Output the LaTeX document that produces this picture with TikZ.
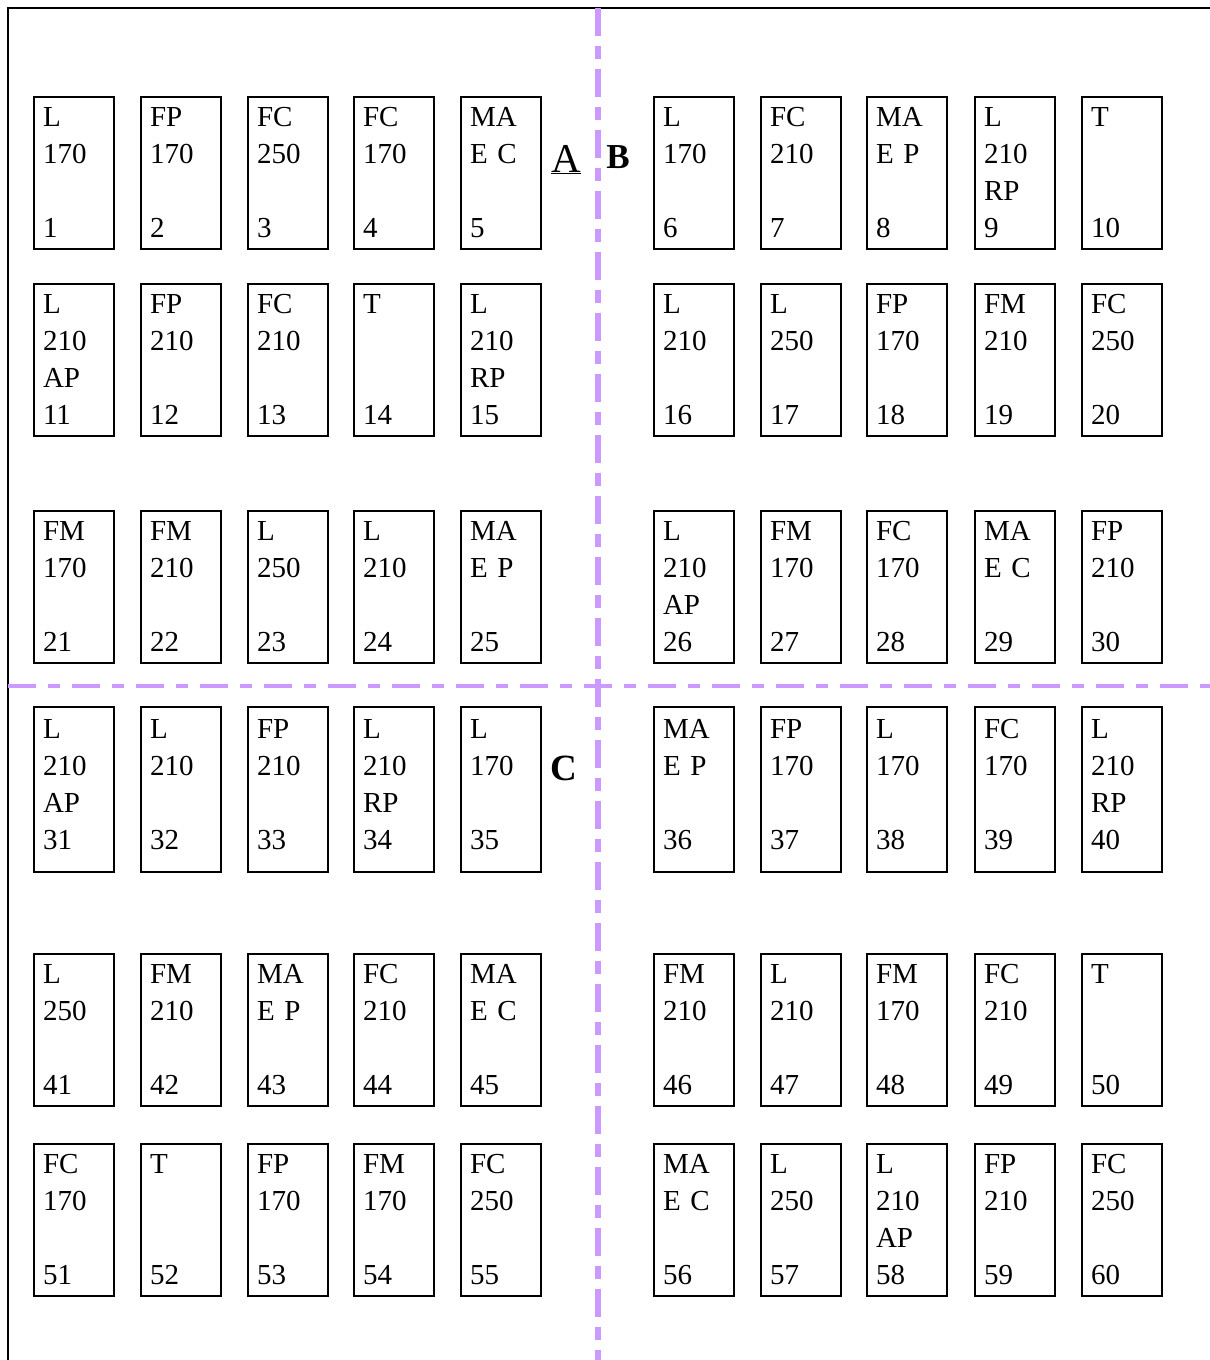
\documentclass[tikz,border=0pt]{standalone}
\usepackage{fontspec}
\setmainfont{Liberation Serif}
\definecolor{lavender}{RGB}{204,153,255}

\begin{document}
\begin{tikzpicture}[x=1pt,y=-1pt,
  slotbox/.style={draw, line width=2pt, anchor=north west, inner xsep=9pt, inner ysep=0pt,
    text width=62pt, align=left, text height=29pt, text depth=123pt,
    font=\fontsize{29}{37}\selectfont},
  tallbox/.style={slotbox, text height=31pt, text depth=134pt},
  divider/.style={lavender, line width=6pt, dash pattern=on 28pt off 10pt on 13pt off 10pt}]
  \useasboundingbox (0,0) rectangle (1210,1360);

  \draw[line width=2.5pt] (8,1360) -- (8,8) -- (1210,8);
  \draw[divider] (598,8) -- (598,1360);
  \draw[divider, line width=4.5pt, dash pattern=on 28pt off 12pt on 12pt off 12pt] (8,686) -- (1210,686);

  \node[slotbox] (b1) at (33,96) {L\\170\\~\\1};
  \node[slotbox] (b2) at (140,96) {FP\\170\\~\\2};
  \node[slotbox] (b3) at (247,96) {FC\\250\\~\\3};
  \node[slotbox] (b4) at (353,96) {FC\\170\\~\\4};
  \node[slotbox] (b5) at (460,96) {MA\\E C\\~\\5};
  \node[slotbox] (b6) at (653,96) {L\\170\\~\\6};
  \node[slotbox] (b7) at (760,96) {FC\\210\\~\\7};
  \node[slotbox] (b8) at (866,96) {MA\\E P\\~\\8};
  \node[slotbox] (b9) at (974,96) {L\\210\\RP\\9};
  \node[slotbox] (b10) at (1081,96) {T\\~\\~\\10};

  \node[slotbox] (b11) at (33,283) {L\\210\\AP\\11};
  \node[slotbox] (b12) at (140,283) {FP\\210\\~\\12};
  \node[slotbox] (b13) at (247,283) {FC\\210\\~\\13};
  \node[slotbox] (b14) at (353,283) {T\\~\\~\\14};
  \node[slotbox] (b15) at (460,283) {L\\210\\RP\\15};
  \node[slotbox] (b16) at (653,283) {L\\210\\~\\16};
  \node[slotbox] (b17) at (760,283) {L\\250\\~\\17};
  \node[slotbox] (b18) at (866,283) {FP\\170\\~\\18};
  \node[slotbox] (b19) at (974,283) {FM\\210\\~\\19};
  \node[slotbox] (b20) at (1081,283) {FC\\250\\~\\20};

  \node[slotbox] (b21) at (33,510) {FM\\170\\~\\21};
  \node[slotbox] (b22) at (140,510) {FM\\210\\~\\22};
  \node[slotbox] (b23) at (247,510) {L\\250\\~\\23};
  \node[slotbox] (b24) at (353,510) {L\\210\\~\\24};
  \node[slotbox] (b25) at (460,510) {MA\\E P\\~\\25};
  \node[slotbox] (b26) at (653,510) {L\\210\\AP\\26};
  \node[slotbox] (b27) at (760,510) {FM\\170\\~\\27};
  \node[slotbox] (b28) at (866,510) {FC\\170\\~\\28};
  \node[slotbox] (b29) at (974,510) {MA\\E C\\~\\29};
  \node[slotbox] (b30) at (1081,510) {FP\\210\\~\\30};

  \node[tallbox] (b31) at (33,706) {L\\210\\AP\\31};
  \node[tallbox] (b32) at (140,706) {L\\210\\~\\32};
  \node[tallbox] (b33) at (247,706) {FP\\210\\~\\33};
  \node[tallbox] (b34) at (353,706) {L\\210\\RP\\34};
  \node[tallbox] (b35) at (460,706) {L\\170\\~\\35};
  \node[tallbox] (b36) at (653,706) {MA\\E P\\~\\36};
  \node[tallbox] (b37) at (760,706) {FP\\170\\~\\37};
  \node[tallbox] (b38) at (866,706) {L\\170\\~\\38};
  \node[tallbox] (b39) at (974,706) {FC\\170\\~\\39};
  \node[tallbox] (b40) at (1081,706) {L\\210\\RP\\40};

  \node[slotbox] (b41) at (33,953) {L\\250\\~\\41};
  \node[slotbox] (b42) at (140,953) {FM\\210\\~\\42};
  \node[slotbox] (b43) at (247,953) {MA\\E P\\~\\43};
  \node[slotbox] (b44) at (353,953) {FC\\210\\~\\44};
  \node[slotbox] (b45) at (460,953) {MA\\E C\\~\\45};
  \node[slotbox] (b46) at (653,953) {FM\\210\\~\\46};
  \node[slotbox] (b47) at (760,953) {L\\210\\~\\47};
  \node[slotbox] (b48) at (866,953) {FM\\170\\~\\48};
  \node[slotbox] (b49) at (974,953) {FC\\210\\~\\49};
  \node[slotbox] (b50) at (1081,953) {T\\~\\~\\50};

  \node[slotbox] (b51) at (33,1143) {FC\\170\\~\\51};
  \node[slotbox] (b52) at (140,1143) {T\\~\\~\\52};
  \node[slotbox] (b53) at (247,1143) {FP\\170\\~\\53};
  \node[slotbox] (b54) at (353,1143) {FM\\170\\~\\54};
  \node[slotbox] (b55) at (460,1143) {FC\\250\\~\\55};
  \node[slotbox] (b56) at (653,1143) {MA\\E C\\~\\56};
  \node[slotbox] (b57) at (760,1143) {L\\250\\~\\57};
  \node[slotbox] (b58) at (866,1143) {L\\210\\AP\\58};
  \node[slotbox] (b59) at (974,1143) {FP\\210\\~\\59};
  \node[slotbox] (b60) at (1081,1143) {FC\\250\\~\\60};

  \node[font=\fontsize{41}{41}\selectfont, anchor=base] (zoneA) at (566,172) {\underline{A}};
  \node[font=\fontsize{35}{35}\selectfont\bfseries, anchor=base] (zoneB) at (618,168) {B};
  \node[font=\fontsize{37}{37}\selectfont\bfseries, anchor=base] (zoneC) at (564,780) {C};
\end{tikzpicture}
\end{document}
